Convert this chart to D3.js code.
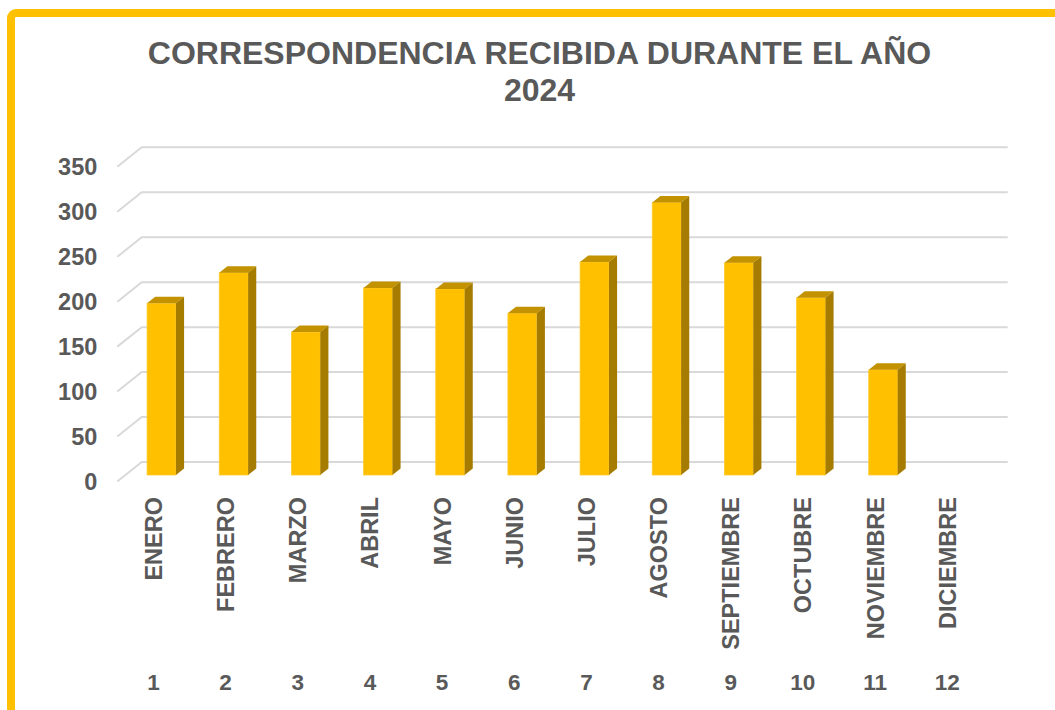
<!DOCTYPE html>
<html>
<head>
<meta charset="utf-8">
<script src="https://cdn.jsdelivr.net/npm/d3@7"></script>
<style>
  html, body { margin: 0; padding: 0; background: #fff; }
  svg { display: block; font-family: "Liberation Sans", Arial, sans-serif; }
</style>
</head>
<body>
<svg id="chart" width="1055" height="710"></svg>
<script>
const titleLines = ["CORRESPONDENCIA RECIBIDA DURANTE EL AÑO", "2024"];
const months = ["ENERO","FEBRERO","MARZO","ABRIL","MAYO","JUNIO","JULIO","AGOSTO","SEPTIEMBRE","OCTUBRE","NOVIEMBRE","DICIEMBRE"];
const monthNumbers = ["1","2","3","4","5","6","7","8","9","10","11","12"];
const values = [191, 225, 159, 208, 207, 180, 237, 303, 236, 197, 117, null];
const yTicks = [0, 50, 100, 150, 200, 250, 300, 350];

const svg = d3.select("#chart");
const textColor = "#595959";
const gridColor = "#D9D9D9";

// background
svg.append("rect").attr("width", 1055).attr("height", 710).attr("fill", "#fff");

// frame border
svg.append("rect")
  .attr("x", 11).attr("y", 13)
  .attr("width", 1200).attr("height", 900)
  .attr("rx", 5)
  .attr("fill", "none")
  .attr("stroke", "#FFC000")
  .attr("stroke-width", 8);

// title
const title = svg.append("text")
  .attr("text-anchor", "middle")
  .attr("font-size", 32)
  .attr("font-weight", "bold")
  .attr("fill", textColor);
title.selectAll("tspan").data(titleLines).join("tspan")
  .attr("x", 539.5)
  .attr("y", (d, i) => 63.5 + i * 37.3)
  .text(d => d);

// 3D geometry (back wall plane)
const backLeft = 141.7, backRight = 1007.7;
const depthDx = -24.4, depthDy = 19.5; // offset from back wall to front plane

const x = d3.scaleBand().domain(months).range([backLeft, backRight])
  .paddingInner(0.6).paddingOuter(0.3);
const y = d3.scaleLinear().domain([0, 350]).range([462, 147.3]);

// gridlines: back wall horizontal + left side wall diagonal
const grid = svg.append("g");
grid.selectAll("path").data(yTicks).join("path")
  .attr("d", t => {
    const yy = y(t);
    return `M${backLeft + depthDx},${yy + depthDy}L${backLeft},${yy}L${backRight},${yy}`;
  })
  .attr("fill", "none")
  .attr("stroke", gridColor)
  .attr("stroke-width", 2);

// y axis on the front plane
const yAxis = svg.append("g")
  .attr("transform", `translate(${backLeft + depthDx},${depthDy})`)
  .call(d3.axisLeft(y).tickValues(yTicks).tickSize(0).tickPadding(20));
yAxis.select(".domain").remove();
yAxis.selectAll("text")
  .attr("font-family", "'Liberation Sans', Arial, sans-serif")
  .attr("font-size", 23.5)
  .attr("font-weight", "bold")
  .attr("fill", textColor);

// bars
const fFront = 2 / 3, fBack = 1 / 3; // depth fractions measured from back
const barData = months.map((m, i) => ({ m, v: values[i] })).filter(d => d.v != null);
const bw = x.bandwidth();
const ddx = depthDx * (fFront - fBack), ddy = depthDy * (fFront - fBack); // bar depth vector (front->back is -ddx,-ddy)
const bars = svg.append("g").selectAll("g").data(barData).join("g");

bars.append("rect")
  .attr("x", d => x(d.m) + depthDx * fFront)
  .attr("y", d => y(d.v) + depthDy * fFront)
  .attr("width", bw)
  .attr("height", d => y(0) - y(d.v))
  .attr("fill", "#FFC000")
  .attr("stroke", "#FFCB2E")
  .attr("stroke-width", 0.8);

bars.append("path")
  .attr("d", d => {
    const x0 = x(d.m) + depthDx * fFront, yt = y(d.v) + depthDy * fFront;
    return `M${x0},${yt}L${x0 + bw},${yt}L${x0 + bw - ddx},${yt - ddy}L${x0 - ddx},${yt - ddy}Z`;
  })
  .attr("fill", "#C29200");

bars.append("path")
  .attr("d", d => {
    const x1 = x(d.m) + depthDx * fFront + bw;
    const yt = y(d.v) + depthDy * fFront, yb = y(0) + depthDy * fFront;
    return `M${x1},${yt}L${x1 - ddx},${yt - ddy}L${x1 - ddx},${yb - ddy}L${x1},${yb}Z`;
  })
  .attr("fill", "#A57C00");

// category labels (front plane)
const xFront = d3.scaleBand().domain(months).range([backLeft + depthDx, backRight + depthDx]);
svg.append("g").selectAll("text").data(months).join("text")
  .attr("transform", d => `translate(${xFront(d) + xFront.bandwidth() / 2},497) rotate(-90)`)
  .attr("text-anchor", "end")
  .attr("dy", "0.36em")
  .attr("font-size", 23.5)
  .attr("font-weight", "bold")
  .attr("fill", textColor)
  .text(d => d);

svg.append("g").selectAll("text").data(months).join("text")
  .attr("x", d => xFront(d) + xFront.bandwidth() / 2)
  .attr("y", 690)
  .attr("text-anchor", "middle")
  .attr("font-size", 22.5)
  .attr("font-weight", "bold")
  .attr("fill", textColor)
  .text((d, i) => monthNumbers[i]);
</script>
</body>
</html>
